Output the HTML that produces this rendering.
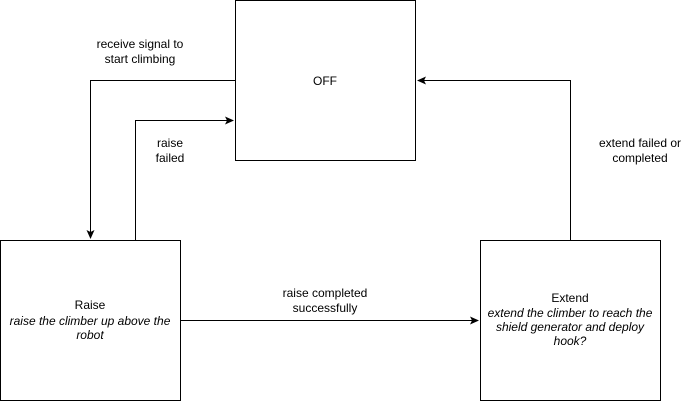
<!DOCTYPE html>
<html><head><meta charset="utf-8"><style>html,body{margin:0;padding:0;background:#fff}svg{display:block}text{font-family:"Liberation Sans",Arial,sans-serif;font-size:12px;fill:#000}</style></head>
<body>
<svg width="691" height="401" viewBox="0 0 691 401" xmlns="http://www.w3.org/2000/svg">
<defs><marker id="a" markerWidth="10" markerHeight="10" refX="8" refY="4" orient="auto" markerUnits="userSpaceOnUse"><path d="M0,0 L9,4 L0,8 L2,4 Z" fill="#000"/></marker></defs>
<g fill="#fff" stroke="#000" stroke-width="1">
<rect x="235.5" y="0.5" width="180" height="160"/>
<rect x="0.5" y="240.5" width="180" height="160"/>
<rect x="480.5" y="240.5" width="180" height="160"/>
</g>
<g fill="none" stroke="#000" stroke-width="1">
<path d="M235.5,80.5 H90.5 V238" marker-end="url(#a)"/>
<path d="M135.5,240 V120.5 H233" marker-end="url(#a)"/>
<path d="M180.5,320.5 H478" marker-end="url(#a)"/>
<path d="M570.5,240 V80.5 H418" marker-end="url(#a)"/>
</g>
<g text-anchor="middle">
<text x="325" y="85">OFF</text>
<text x="140" y="48">receive signal to</text>
<text x="140" y="63">start climbing</text>
<text x="170" y="147">raise</text>
<text x="170" y="162">failed</text>
<text x="325" y="297">raise completed</text>
<text x="325" y="312">successfully</text>
<text x="640" y="147">extend failed or</text>
<text x="640" y="162">completed</text>
<text x="90" y="309">Raise</text>
<text x="90" y="325" font-style="italic">raise the climber up above the</text>
<text x="90" y="339" font-style="italic">robot</text>
<text x="570" y="302">Extend</text>
<text x="570" y="317" font-style="italic">extend the climber to reach the</text>
<text x="570" y="331" font-style="italic">shield generator and deploy</text>
<text x="570" y="345" font-style="italic">hook?</text>
</g>
</svg>
</body></html>
